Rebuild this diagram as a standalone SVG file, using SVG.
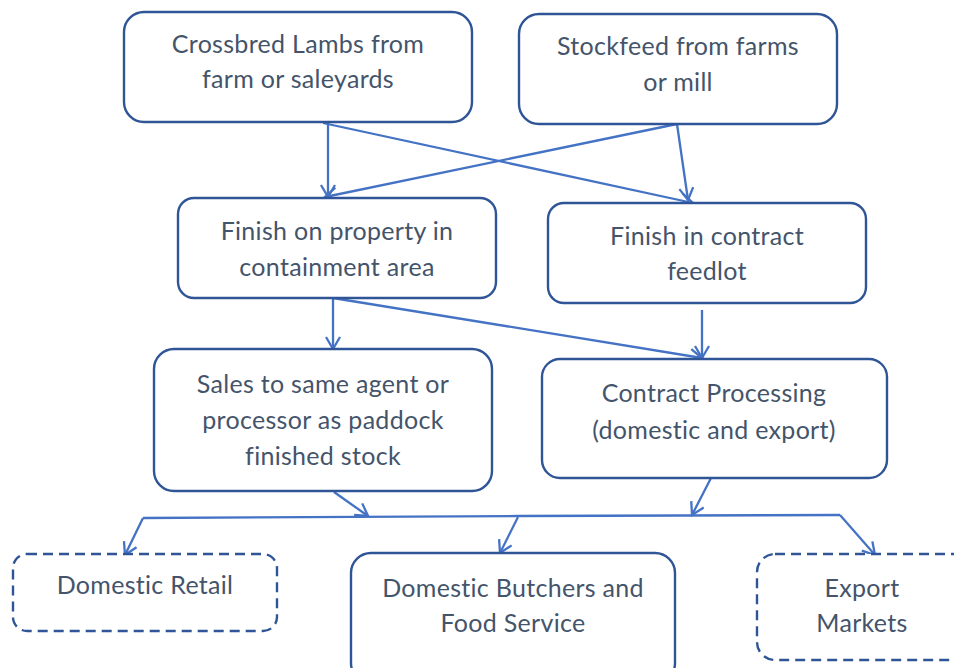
<svg xmlns="http://www.w3.org/2000/svg" width="954" height="668" viewBox="0 0 954 668">
<style>
.box{fill:#fff;stroke:#2F5597;stroke-width:2.4}
.dash{stroke-dasharray:10 6}
.t{font-family:Lato,"Liberation Sans",sans-serif;font-size:25px;letter-spacing:0.3px;fill:#44546A;text-anchor:middle}
.c{stroke:#4472C4;stroke-width:2.3;fill:none}
</style>
<defs>
<marker id="a" markerUnits="userSpaceOnUse" markerWidth="16" markerHeight="16" refX="13" refY="8" orient="auto">
<path d="M1,1 L13,8 L1,15" fill="none" stroke="#4472C4" stroke-width="2.3"/>
</marker>
</defs>
<rect width="954" height="668" fill="#fff"/>
<g id="connectors">
<line class="c" x1="328" y1="123" x2="328" y2="197" marker-end="url(#a)"/>
<line class="c" x1="323" y1="123" x2="693" y2="203" marker-end="url(#a)"/>
<line class="c" x1="677" y1="124" x2="325" y2="197" marker-end="url(#a)"/>
<line class="c" x1="677" y1="124" x2="688" y2="200" marker-end="url(#a)"/>
<line class="c" x1="333" y1="298" x2="333" y2="349" marker-end="url(#a)"/>
<line class="c" x1="333" y1="298" x2="702" y2="358" marker-end="url(#a)"/>
<line class="c" x1="702" y1="310" x2="702" y2="358" marker-end="url(#a)"/>
<line class="c" x1="334" y1="492" x2="368" y2="516" marker-end="url(#a)"/>
<line class="c" x1="711" y1="478" x2="692" y2="515" marker-end="url(#a)"/>
<path class="c" d="M143,518 L518,516 L840,515"/>
<line class="c" x1="143" y1="518" x2="125" y2="555" marker-end="url(#a)"/>
<line class="c" x1="518" y1="517" x2="500" y2="553" marker-end="url(#a)"/>
<line class="c" x1="840" y1="515" x2="875" y2="555" marker-end="url(#a)"/>
</g>
<g id="n1"><rect class="box" x="124" y="12" width="348" height="110" rx="20"/>
<text class="t" x="298" y="53">Crossbred Lambs from</text><text class="t" x="298" y="88">farm or saleyards</text></g>
<g id="n2"><rect class="box" x="519" y="14" width="318" height="110" rx="20"/>
<text class="t" x="678" y="55">Stockfeed from farms</text><text class="t" x="678" y="91">or mill</text></g>
<g id="n3"><rect class="box" x="178" y="198" width="318" height="100" rx="16"/>
<text class="t" x="337" y="240">Finish on property in</text><text class="t" x="337" y="276">containment area</text></g>
<g id="n4"><rect class="box" x="548" y="203" width="318" height="100" rx="16"/>
<text class="t" x="707" y="245">Finish in contract</text><text class="t" x="707" y="280">feedlot</text></g>
<g id="n5"><rect class="box" x="154" y="349" width="338" height="142" rx="20"/>
<text class="t" x="323" y="393">Sales to same agent or</text><text class="t" x="323" y="429">processor as paddock</text><text class="t" x="323" y="465">finished stock</text></g>
<g id="n6"><rect class="box" x="542" y="359" width="345" height="119" rx="18"/>
<text class="t" x="714" y="402">Contract Processing</text><text class="t" x="714" y="439">(domestic and export)</text></g>
<g id="n7"><rect class="box dash" x="13" y="554" width="264" height="77" rx="14"/>
<text class="t" x="145" y="594">Domestic Retail</text></g>
<g id="n8"><rect class="box" x="351" y="553" width="324" height="130" rx="20"/>
<text class="t" x="513" y="597">Domestic Butchers and</text><text class="t" x="513" y="632">Food Service</text></g>
<g id="n9"><rect class="box dash" x="757" y="554" width="220" height="106" rx="18"/>
<text class="t" x="862" y="597">Export</text><text class="t" x="862" y="632">Markets</text></g>
</svg>
